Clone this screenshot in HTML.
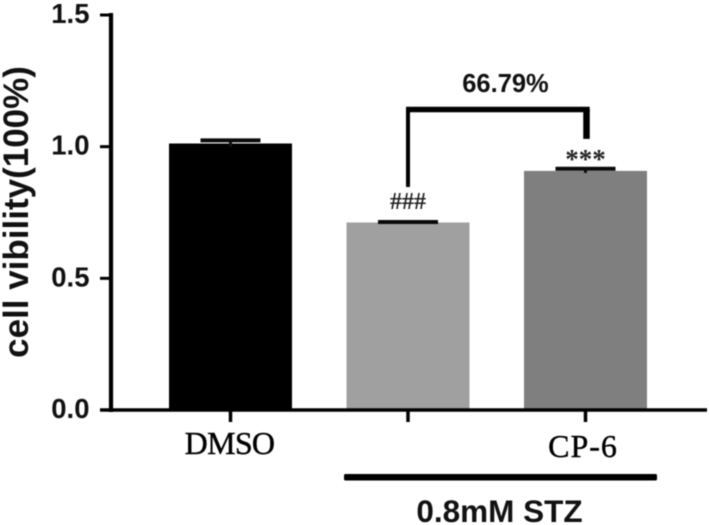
<!DOCTYPE html>
<html>
<head>
<meta charset="utf-8">
<style>
html,body{margin:0;padding:0;background:#fff;}
svg{display:block;}
#plot{filter:blur(0.45px);}
</style>
</head>
<body>
<svg id="chart" width="709" height="525" viewBox="0 0 709 525" xmlns="http://www.w3.org/2000/svg">
<rect x="0" y="0" width="709" height="525" fill="#ffffff"/>
<g id="plot">
<g id="bars"></g>
<g id="axes"></g>
<g id="bracket"></g>
<text transform="translate(28,212) rotate(-90)" text-anchor="middle" font-family="Liberation Sans, sans-serif" font-weight="bold" font-size="35" fill="#111">cell vibility(100%)</text>
<text x="505.5" y="92" text-anchor="middle" font-family="Liberation Sans, sans-serif" font-weight="bold" font-size="25.5" fill="#111">66.79%</text>
<rect x="344" y="474" width="313" height="6.5" rx="1.5" fill="#000"/>
<text x="499.5" y="522" text-anchor="middle" font-family="Liberation Sans, sans-serif" font-weight="bold" font-size="31.5" fill="#111">0.8mM STZ</text>
</g>
</svg>
<script>
const categories = ["DMSO", "", "CP-6"];
const values = [1.012, 0.712, 0.908];
const errors = [0.012, 0.002, 0.008];
const annotations = ["", "###", "***"];
const yTicks = [0.0, 0.5, 1.0, 1.5];
const barColors = ["#000000", "#a0a0a0", "#7f7f7f"];

const NS = "http://www.w3.org/2000/svg";
function y(v){ return 410 - v * (410 - 15) / 1.5; }
function x(i){ return 230.5 + i * 177.5; }
function mk(parent, tag, attrs, text){
  const el = document.createElementNS(NS, tag);
  for (const k in attrs) el.setAttribute(k, attrs[k]);
  if (text !== undefined) el.textContent = text;
  parent.appendChild(el);
  return el;
}
const barsG = document.getElementById("bars");
const axesG = document.getElementById("axes");
const bracketG = document.getElementById("bracket");
const bw = 123;
const capHalf = 30;
const annotationStyle = [null, {size: 24, gap: 13}, {size: 27, gap: 1}];
const labelStyle = [{dx: -1, base: 454, spacing: -0.7}, null, {dx: -2.5, base: 457, spacing: 1}];

values.forEach(function(v, i){
  const cx = x(i);
  const bar = mk(barsG, "rect", {x: cx - bw/2, y: y(v), width: bw, height: y(0) - y(v), fill: barColors[i]});
  
  
  const top = y(v + errors[i]);
  const bottom = y(v - errors[i]);
  const stem = mk(barsG, "line", {x1: cx, x2: cx, y1: top, y2: bottom, stroke: "#111", "stroke-width": 3});
  
  
  const cap = mk(barsG, "line", {x1: cx - capHalf, x2: cx + capHalf, y1: top, y2: top, stroke: "#0a0a0a", "stroke-width": 4});
  
  
  if (annotations[i]) {
    const an = mk(barsG, "text", {x: cx, y: top - annotationStyle[i].gap, "text-anchor": "middle", "font-family": "Liberation Serif, serif", "font-weight": "bold", "font-size": annotationStyle[i].size, fill: "#222"}, annotations[i]);
    
    
  }
});

const yAxis = mk(axesG, "line", {x1: 111, x2: 111, y1: y(1.5) - 2, y2: y(0) + 2, stroke: "#000", "stroke-width": 4.2});


const xAxis = mk(axesG, "line", {x1: 100, x2: 707, y1: y(0), y2: y(0), stroke: "#000", "stroke-width": 3.6});



yTicks.forEach(function(t){
  const tick = mk(axesG, "line", {x1: 100, x2: 111, y1: y(t), y2: y(t), stroke: "#000", "stroke-width": 3});
  
  
  const lab = mk(axesG, "text", {x: 89.5, y: y(t) + 8, "text-anchor": "end", "font-family": "Liberation Sans, sans-serif", "font-weight": "bold", "font-size": 27.5, fill: "#111"}, t.toFixed(1));
  
  
});

categories.forEach(function(c, i){
  const tick = mk(axesG, "line", {x1: x(i), x2: x(i), y1: y(0), y2: y(0) + 12, stroke: "#000", "stroke-width": 3.5});
  
  
  if (c) {
    const s = labelStyle[i];
    const lab = mk(axesG, "text", {x: x(i) + s.dx, y: s.base, "text-anchor": "middle", "font-family": "Liberation Serif, serif", "font-size": 32, "letter-spacing": s.spacing, fill: "#000", stroke: "#000", "stroke-width": 0.4}, c);
    
    
  }
});

const bracketTop = 109.5;
const leftX = x(1);
const rightX = x(2) + 1;
const brH = mk(bracketG, "line", {x1: leftX - 2, x2: rightX + 3.2, y1: bracketTop, y2: bracketTop, stroke: "#000", "stroke-width": 5.5});


const brL = mk(bracketG, "line", {x1: leftX, x2: leftX, y1: bracketTop, y2: y(values[1]) - 35.5, stroke: "#000", "stroke-width": 4});


const brR = mk(bracketG, "line", {x1: rightX, x2: rightX, y1: bracketTop, y2: y(values[2]) - 32, stroke: "#000", "stroke-width": 6.5});


</script>
</body>
</html>
